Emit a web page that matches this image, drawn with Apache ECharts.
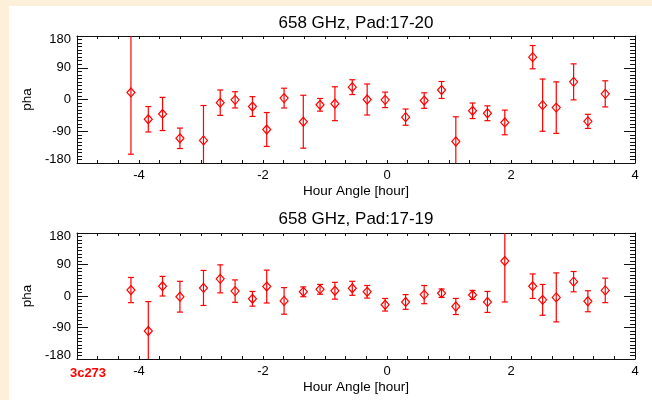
<!DOCTYPE html>
<html>
<head>
    <meta charset="utf-8"/>
    <script src="https://cdn.jsdelivr.net/npm/echarts@6/dist/echarts.min.js"></script>
    <style>
        html, body { margin: 0; padding: 0; background: #fff; }
    </style>
</head>
<body>
<div id="main" style="width: 652px;height:400px;"></div>
<script type="text/javascript">
    // hour angle of each scan (same for both baselines)
    var hourAngle = [-4.13, -3.85, -3.62, -3.34, -2.96, -2.69, -2.45, -2.17, -1.94, -1.66,
        -1.35, -1.08, -0.84, -0.56, -0.32, -0.03, 0.30, 0.60, 0.88, 1.11,
        1.38, 1.62, 1.90, 2.35, 2.51, 2.73, 3.01, 3.24, 3.52];

    // Pad:17-20
    var pha1720 = [20, -56, -41, -110, -116, -9, -1, -20, -85, 4,
        -63, -15, -12, 35, 0, -1, -50, -3, 27, -119,
        -32, -39, -65, 120, -16, -23, 50, -62, 16];
    var err1720 = [175, 36, 47, 29, 99, 36, 23, 28, 48, 28,
        75, 18, 48, 21, 44, 22, 23, 22, 24, 70,
        22, 21, 35, 33, 74, 73, 51, 20, 37];

    // Pad:17-19
    var pha1719 = [17, -100, 28, -2, 23, 49, 14, -8, 27, -14,
        12, 19, 15, 22, 12, -25, -17, 4, 8, -30,
        3, -17, 100, 28, -11, -4, 41, -15, 16];
    var err1719 = [36, 84, 28, 44, 50, 40, 32, 21, 47, 38,
        14, 14, 24, 20, 18, 18, 21, 26, 12, 23,
        13, 30, 117, 35, 44, 70, 29, 30, 35];

    var titles = ['658 GHz, Pad:17-20', '658 GHz, Pad:17-19'];
    var xLabelValues = [-4, -2, 0, 2, 4];
    var xMin = -5, xMax = 4;

    // minor ticks every 1/3 hour like the IDL plot
    var xTickValues = [];
    for (var k = 0; k <= (xMax - xMin) * 3; k++) {
        xTickValues.push(xMin + k / 3);
    }

    var RED = '#ff0000';
    var FONT = 'Liberation Sans, Arial, Helvetica, sans-serif';

    var myChart = echarts.init(document.getElementById('main'));

    function rows(ph, er) {
        return hourAngle.map(function (h, i) { return [h, ph[i], er[i]]; });
    }

    // vertical error bar, clipped at the plot frame (no cap where clipped)
    function renderErr(params, api) {
        var x = api.value(0), v = api.value(1), e = api.value(2);
        var hi = Math.min(v + e, 180), lo = Math.max(v - e, -180);
        var pT = api.coord([x, hi]);
        var pB = api.coord([x, lo]);
        var st = {stroke: RED, lineWidth: 1.2};
        var kids = [{type: 'line', shape: {x1: pT[0], y1: pT[1], x2: pB[0], y2: pB[1]}, style: st}];
        if (v + e <= 180) {
            kids.push({type: 'line', shape: {x1: pT[0] - 3, y1: pT[1], x2: pT[0] + 3, y2: pT[1]}, style: st});
        }
        if (v - e >= -180) {
            kids.push({type: 'line', shape: {x1: pB[0] - 3, y1: pB[1], x2: pB[0] + 3, y2: pB[1]}, style: st});
        }
        return {type: 'group', children: kids};
    }

    var grids = [
        {left: 77, right: 17, top: 36, height: 127},
        {left: 77, right: 17, top: 233, height: 126}
    ];

    var xAxes = [], yAxes = [], series = [];
    var lineStyle = {color: '#111', width: 1};

    [0, 1].forEach(function (g) {
        // bottom axis with labels
        xAxes.push({
            gridIndex: g, type: 'value', position: 'bottom', min: xMin, max: xMax,
            name: 'Hour Angle [hour]', nameLocation: 'middle', nameGap: 21,
            nameTextStyle: {color: '#000', fontSize: 13.5, fontFamily: FONT},
            axisLine: {show: true, onZero: false, lineStyle: lineStyle},
            axisTick: {show: true, inside: true, length: 3, customValues: xTickValues, lineStyle: lineStyle},
            axisLabel: {customValues: xLabelValues, margin: 6, color: '#000', fontSize: 13, fontFamily: FONT},
            splitLine: {show: false}
        });
        // top axis, ticks only
        xAxes.push({
            gridIndex: g, type: 'value', position: 'top', min: xMin, max: xMax,
            axisLine: {show: true, onZero: false, lineStyle: lineStyle},
            axisTick: {show: true, inside: true, length: 3, customValues: xTickValues, lineStyle: lineStyle},
            axisLabel: {show: false},
            splitLine: {show: false}
        });
        yAxes.push({
            gridIndex: g, type: 'value', position: 'left', min: -180, max: 180, interval: 90,
            name: 'pha', nameLocation: 'middle', nameGap: 38,
            nameTextStyle: {color: '#000', fontSize: 13.5, fontFamily: FONT},
            axisLine: {show: true, onZero: false, lineStyle: lineStyle},
            axisTick: {show: true, inside: true, length: 11, lineStyle: lineStyle},
            minorTick: {show: true, splitNumber: 9, length: 5, lineStyle: lineStyle},
            axisLabel: {
                margin: 6, color: '#000', fontSize: 13, fontFamily: FONT,
                formatter: function (v) {
                    if (v === 180) return '{a|180}';
                    if (v === -180) return '{b|-180}';
                    return v;
                },
                rich: {
                    a: {padding: [6, 0, 0, 0], color: '#000', fontSize: 13, fontFamily: FONT},
                    b: {padding: [0, 0, 7, 0], color: '#000', fontSize: 13, fontFamily: FONT}
                }
            },
            splitLine: {show: false}
        });
        yAxes.push({
            gridIndex: g, type: 'value', position: 'right', min: -180, max: 180, interval: 90,
            axisLine: {show: true, onZero: false, lineStyle: lineStyle},
            axisTick: {show: true, inside: true, length: 11, lineStyle: lineStyle},
            minorTick: {show: true, splitNumber: 9, length: 5, lineStyle: lineStyle},
            axisLabel: {show: false},
            splitLine: {show: false}
        });

        var data = g === 0 ? rows(pha1720, err1720) : rows(pha1719, err1719);
        series.push({
            type: 'custom', xAxisIndex: g * 2, yAxisIndex: g * 2,
            renderItem: renderErr, encode: {x: 0, y: 1}, data: data, silent: true
        });
        series.push({
            type: 'scatter', xAxisIndex: g * 2, yAxisIndex: g * 2,
            symbol: 'diamond', symbolSize: [8, 9],
            itemStyle: {color: 'rgba(0,0,0,0)', borderColor: RED, borderWidth: 1.2, opacity: 1},
            data: data.map(function (r) { return [r[0], r[1]]; }), silent: true
        });
    });

    var option = {
        animation: false,
        backgroundColor: '#fff',
        grid: grids,
        xAxis: xAxes,
        yAxis: yAxes,
        series: series,
        graphic: [
            // cream page border on the left and top
            {type: 'rect', left: 0, top: 0, shape: {width: 652, height: 6}, style: {fill: '#fdf0db'}, silent: true},
            {type: 'rect', left: 0, top: 0, shape: {width: 9, height: 400}, style: {fill: '#fdf0db'}, silent: true},
            {type: 'text', x: 356, y: 23, style: {text: titles[0], align: 'center', verticalAlign: 'middle', fill: '#000', font: '17px ' + FONT}},
            {type: 'text', x: 356, y: 219, style: {text: titles[1], align: 'center', verticalAlign: 'middle', fill: '#000', font: '17px ' + FONT}},
            {type: 'text', x: 88, y: 373, style: {text: '3c273', align: 'center', verticalAlign: 'middle', fill: RED, font: 'bold 13px ' + FONT}}
        ]
    };

    myChart.setOption(option);
</script>
</body>
</html>
